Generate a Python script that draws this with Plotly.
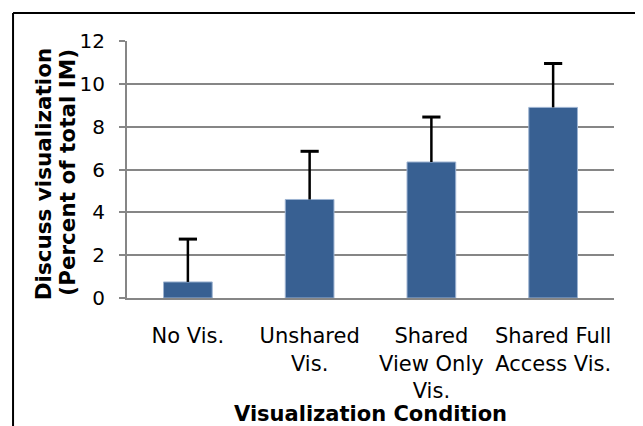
import plotly.graph_objects as go

# values
conditions = ["No Vis.", "Unshared<br>Vis.", "Shared<br>View Only<br>Vis.", "Shared Full<br>Access Vis."]
percent_im = [0.75, 4.6, 6.35, 8.9]
error_up = [2.0, 2.25, 2.1, 2.05]
y_ticks = [0, 2, 4, 6, 8, 10, 12]

font_name = "DejaVu Sans"

fig = go.Figure()
fig.add_trace(go.Bar(
    x=conditions,
    y=percent_im,
    marker=dict(color="#386092", line=dict(color="#9DB3D1", width=1)),
    error_y=dict(type="data", array=error_up, symmetric=False, arrayminus=[0] * 4,
                 color="black", thickness=2.5, width=0),
    width=0.4,
))
# caps on top of the error bars only
fig.add_trace(go.Scatter(
    x=conditions,
    y=[v + e for v, e in zip(percent_im, error_up)],
    mode="markers",
    marker=dict(symbol="line-ew", size=13, line=dict(color="black", width=3)),
    hoverinfo="skip",
))

# the page body has an 8px margin, so the figure is shifted by that much
fig.update_layout(
    width=643, height=426,
    margin=dict(l=119, r=37, t=33, b=136),
    plot_bgcolor="white",
    paper_bgcolor="white",
    showlegend=False,
    font=dict(family=font_name, color="black", size=20),
)

fig.update_xaxes(
    showline=True, linecolor="#868686", linewidth=2,
    ticks="", tickfont=dict(size=21), ticklabelstandoff=18,
    showgrid=False,
)
fig.update_yaxes(
    range=[0, 12], tickvals=y_ticks,
    showline=True, linecolor="#868686", linewidth=2,
    ticks="outside", ticklen=6, tickcolor="#868686", tickwidth=2,
    showgrid=True, gridcolor="#868686", gridwidth=2,
    tickfont=dict(size=20), ticklabelstandoff=10, zeroline=False,
)

# y-axis title, two rotated lines
fig.add_annotation(
    text="<b>Discuss visualization</b>",
    xref="paper", yref="paper", x=-0.171, y=0.484,
    xanchor="center", yanchor="middle", textangle=-90,
    showarrow=False, font=dict(size=21.5, family=font_name),
)
fig.add_annotation(
    text="<b>(Percent of total IM)</b>",
    xref="paper", yref="paper", x=-0.123, y=0.488,
    xanchor="center", yanchor="middle", textangle=-90,
    showarrow=False, font=dict(size=21.5, family=font_name),
)
# x-axis title
fig.add_annotation(
    text="<b>Visualization Condition</b>",
    xref="paper", yref="paper", x=0.5, y=-0.451,
    xanchor="center", yanchor="middle",
    showarrow=False, font=dict(size=21, family=font_name),
)

# outer frame: thick black left/top, thin grey right edge
frame_left, frame_right, frame_top, frame_bottom = -0.234, 1.057, 1.109, -0.6
fig.add_shape(type="line", xref="paper", yref="paper",
              x0=frame_left, x1=frame_left, y0=frame_bottom, y1=frame_top,
              line=dict(color="black", width=2))
fig.add_shape(type="line", xref="paper", yref="paper",
              x0=frame_left, x1=frame_right, y0=frame_top, y1=frame_top,
              line=dict(color="black", width=2))
fig.add_shape(type="line", xref="paper", yref="paper",
              x0=frame_right, x1=frame_right, y0=frame_bottom, y1=frame_top,
              line=dict(color="#555555", width=1.5))

fig.write_html("out.html")
